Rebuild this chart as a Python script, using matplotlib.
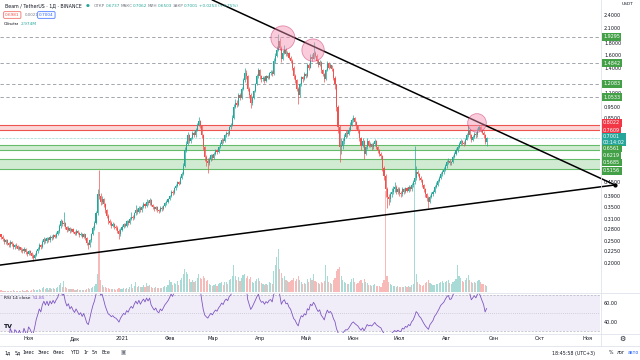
import matplotlib
matplotlib.use("Agg")
import matplotlib.pyplot as plt
import matplotlib.transforms as mtransforms
import numpy as np
import pandas as pd

# ---------------- data (BEAM/USDT, 1D) ----------------
start_date = "2020-10-14"
first_open = 0.268

closes = [
    .262, .255, .248, .252, .245, .240, .247, .243, .236, .240,
    .238, .232, .235, .229, .226, .231, .224, .220, .226, .222,
    .215, .212, .218, .226, .232, .240, .236, .248, .255, .250,
    .258, .252, .262, .258, .266, .262, .270, .276, .290, .305,
    .296, .300, .288, .280, .286, .276, .282, .275, .270, .278,
    .272, .266, .270, .262, .268, .258, .245, .240, .252, .268,
    .285, .300, .330, .400, .395, .372, .380, .362, .340, .322,
    .305, .300, .292, .296, .288, .285, .278, .268, .280, .288,
    .296, .292, .305, .300, .312, .320, .315, .330, .342, .335,
    .350, .340, .352, .362, .355, .372, .365, .378, .360, .352,
    .345, .352, .342, .338, .350, .345, .355, .365, .372, .380,
    .392, .410, .405, .425, .435, .450, .445, .470, .490, .530,
    .620, .660, .720, .680, .700, .740, .720, .760, .800, .830,
    .790, .720, .640, .580, .560, .545, .570, .590, .575, .600,
    .620, .610, .640, .660, .690, .680, .720, .740, .730, .780,
    .800, .860, .960, 1.000, .980, 1.080, 1.050, 1.150, 1.250, 1.350,
    1.300, 1.150, 1.080, 1.000, 1.050, 1.120, 1.200, 1.300, 1.380, 1.300,
    1.260, 1.280, 1.240, 1.300, 1.280, 1.340, 1.360, 1.330, 1.520, 1.600,
    1.700, 1.850, 1.720, 1.550, 1.650, 1.700, 1.620, 1.640, 1.560, 1.520,
    1.420, 1.300, 1.250, 1.150, 1.080, 1.200, 1.290, 1.260, 1.330, 1.300,
    1.450, 1.420, 1.580, 1.550, 1.650, 1.600, 1.520, 1.460, 1.500, 1.380,
    1.330, 1.260, 1.380, 1.480, 1.420, 1.450, 1.400, 1.280, 1.200, .960,
    .780, .640, .650, .680, .710, .740, .730, .760, .800, .840,
    .860, .820, .790, .760, .700, .650, .680, .600, .640, .680,
    .650, .660, .640, .660, .680, .640, .620, .600, .585, .520,
    .480, .420, .390, .380, .400, .410, .420, .430, .410, .420,
    .405, .400, .420, .410, .425, .415, .430, .420, .440, .450,
    .470, .500, .490, .470, .460, .440, .420, .400, .385, .370,
    .390, .400, .410, .430, .440, .455, .470, .490, .500, .510,
    .530, .550, .560, .545, .550, .580, .600, .620, .640, .660,
    .680, .670, .660, .690, .720, .760, .720, .690, .710, .730,
    .720, .760, .780, .760, .740, .720, .674, .700,
]

highs = [
    .270, .266, .258, .256, .255, .248, .252, .250, .246, .244,
    .245, .241, .239, .237, .233, .235, .233, .227, .230, .229,
    .225, .219, .222, .230, .236, .245, .244, .252, .260, .259,
    .262, .262, .266, .266, .270, .270, .275, .281, .296, .312,
    .310, .335, .304, .292, .290, .289, .286, .285, .278, .282,
    .281, .275, .274, .272, .272, .270, .260, .249, .256, .272,
    .290, .306, .338, .420, .510, .405, .392, .386, .366, .346,
    .328, .312, .305, .302, .300, .293, .290, .282, .284, .293,
    .301, .300, .310, .310, .318, .335, .325, .336, .360, .348,
    .356, .354, .358, .370, .366, .380, .378, .385, .382, .364,
    .356, .357, .355, .346, .355, .354, .360, .370, .378, .386,
    .398, .418, .416, .432, .442, .458, .456, .478, .500, .545,
    .640, .680, .745, .730, .712, .752, .750, .775, .815, .870,
    .840, .800, .730, .650, .595, .575, .578, .600, .598, .608,
    .630, .628, .650, .672, .702, .700, .732, .755, .752, .792,
    .818, .880, .990, 1.040, 1.030, 1.100, 1.100, 1.170, 1.280, 1.420,
    1.380, 1.320, 1.170, 1.100, 1.070, 1.140, 1.220, 1.330, 1.420, 1.400,
    1.320, 1.310, 1.300, 1.320, 1.320, 1.360, 1.390, 1.380, 1.560, 1.640,
    1.760, 1.980, 1.900, 1.760, 1.690, 1.780, 1.720, 1.680, 1.660, 1.590,
    1.540, 1.440, 1.330, 1.270, 1.170, 1.220, 1.310, 1.310, 1.360, 1.350,
    1.480, 1.480, 1.620, 1.620, 1.830, 1.680, 1.620, 1.540, 1.530, 1.510,
    1.400, 1.350, 1.400, 1.510, 1.500, 1.480, 1.460, 1.410, 1.300, 1.210,
    .980, .800, .700, .700, .730, .760, .760, .780, .820, .860,
    .880, .870, .830, .800, .770, .710, .700, .690, .650, .700,
    .690, .675, .670, .672, .695, .690, .650, .630, .610, .590,
    .530, .490, .430, .400, .410, .425, .435, .450, .440, .430,
    .428, .412, .428, .425, .432, .430, .438, .435, .448, .462,
    .650, .530, .510, .495, .478, .465, .445, .425, .405, .392,
    .396, .408, .418, .438, .450, .465, .480, .500, .512, .525,
    .542, .562, .575, .568, .560, .590, .612, .632, .652, .672,
    .695, .690, .682, .700, .735, .790, .770, .730, .722, .745,
    .742, .775, .800, .790, .770, .750, .728, .706,
]

lows = [
    .255, .250, .244, .244, .240, .236, .237, .239, .232, .232,
    .233, .228, .228, .225, .222, .223, .220, .216, .217, .218,
    .211, .205, .209, .215, .222, .229, .231, .233, .244, .245,
    .246, .248, .249, .253, .255, .257, .259, .266, .272, .286,
    .290, .290, .282, .275, .276, .272, .273, .271, .265, .267,
    .268, .262, .263, .258, .259, .253, .240, .232, .237, .249,
    .265, .281, .296, .326, .380, .360, .362, .352, .332, .315,
    .298, .294, .286, .287, .283, .279, .272, .255, .264, .276,
    .284, .287, .289, .295, .297, .308, .309, .311, .326, .328,
    .331, .334, .336, .348, .349, .351, .358, .361, .354, .346,
    .338, .340, .336, .330, .334, .339, .341, .351, .360, .367,
    .376, .388, .398, .401, .419, .430, .438, .441, .465, .486,
    .525, .610, .652, .665, .668, .692, .710, .712, .752, .790,
    .775, .705, .625, .560, .530, .495, .535, .560, .566, .570,
    .594, .600, .605, .632, .652, .668, .674, .712, .718, .724,
    .770, .792, .850, .945, .955, .970, 1.030, 1.040, 1.140, 1.230,
    1.260, 1.120, 1.050, .950, .980, 1.040, 1.110, 1.190, 1.280, 1.270,
    1.230, 1.240, 1.220, 1.230, 1.260, 1.270, 1.320, 1.310, 1.320, 1.490,
    1.580, 1.680, 1.690, 1.500, 1.530, 1.630, 1.590, 1.600, 1.540, 1.490,
    1.390, 1.270, 1.220, 1.120, .990, 1.060, 1.180, 1.230, 1.250, 1.280,
    1.290, 1.390, 1.410, 1.520, 1.540, 1.570, 1.490, 1.430, 1.440, 1.350,
    1.300, 1.230, 1.250, 1.370, 1.400, 1.410, 1.370, 1.250, 1.150, .920,
    .740, .550, .600, .630, .660, .700, .710, .720, .750, .790,
    .820, .800, .770, .740, .680, .620, .640, .570, .590, .630,
    .640, .640, .625, .630, .650, .630, .605, .585, .570, .505,
    .460, .390, .350, .360, .370, .390, .400, .410, .400, .400,
    .395, .390, .395, .402, .405, .408, .410, .412, .415, .432,
    .445, .460, .478, .460, .450, .432, .410, .390, .375, .350,
    .365, .384, .395, .405, .425, .435, .450, .465, .482, .492,
    .505, .522, .540, .535, .538, .545, .572, .592, .612, .632,
    .652, .655, .645, .655, .685, .712, .705, .675, .682, .700,
    .705, .712, .750, .745, .728, .705, .662, .650,
]

# volume, millions
volumes = [
    0.8, 0.6, 0.7, 0.5, 0.6, 0.7, 0.5, 0.6, 0.8, 0.5,
    0.6, 0.7, 0.5, 0.6, 0.9, 0.6, 0.7, 0.8, 0.6, 0.7,
    1.0, 1.3, 0.9, 1.1, 1.2, 1.6, 1.0, 2.0, 2.4, 1.5,
    1.8, 1.2, 2.2, 1.4, 1.8, 1.3, 2.0, 2.6, 3.8, 4.5,
    2.8, 5.5, 2.6, 1.8, 1.5, 1.6, 1.3, 1.4, 1.2, 1.1,
    1.3, 1.0, 1.2, 0.9, 1.1, 1.0, 1.6, 2.0, 1.4, 1.8,
    2.4, 3.0, 4.2, 9.0, 31.0, 6.0, 3.5, 2.8, 2.4, 2.0,
    1.8, 1.6, 1.5, 1.3, 1.4, 1.2, 1.5, 2.2, 1.6, 1.4,
    1.8, 1.5, 2.2, 1.7, 2.4, 4.0, 2.2, 3.0, 5.0, 2.6,
    3.2, 2.4, 2.8, 3.5, 2.6, 4.5, 3.0, 3.8, 2.8, 2.2,
    2.0, 2.4, 2.0, 1.8, 2.2, 2.0, 2.6, 3.0, 2.8, 3.5,
    6.0, 5.0, 3.6, 4.4, 4.0, 5.5, 3.8, 6.0, 7.0, 9.0,
    12.0, 10.5, 9.0, 6.5, 5.0, 6.0, 5.0, 5.5, 7.0, 9.5,
    7.0, 6.5, 8.0, 7.0, 5.5, 6.0, 4.0, 3.5, 3.0, 3.6,
    4.0, 3.2, 4.2, 4.5, 5.0, 3.8, 5.2, 5.0, 4.0, 6.0,
    6.5, 8.0, 14.0, 8.0, 6.0, 7.5, 5.5, 7.0, 8.5, 9.5,
    7.0, 8.0, 6.5, 7.5, 5.0, 4.5, 5.5, 6.5, 7.0, 5.5,
    4.5, 4.0, 3.8, 4.2, 3.6, 5.0, 4.5, 4.0, 11.0, 14.0,
    18.0, 22.0, 12.0, 10.0, 7.0, 8.0, 6.0, 5.5, 5.0, 5.5,
    6.0, 7.0, 5.5, 6.5, 8.0, 6.0, 5.0, 4.2, 4.8, 4.0,
    6.5, 5.0, 7.0, 6.0, 9.0, 5.5, 5.0, 4.5, 4.0, 5.0,
    4.5, 5.5, 14.0, 8.0, 5.0, 4.5, 4.2, 6.0, 7.0, 11.0,
    12.0, 13.0, 8.0, 6.0, 5.0, 4.5, 4.0, 4.2, 5.0, 6.5,
    7.0, 5.0, 4.2, 4.8, 5.5, 6.0, 4.5, 6.5, 5.0, 4.5,
    3.8, 3.5, 3.2, 3.6, 4.0, 3.2, 3.0, 3.0, 2.8, 4.5,
    6.0, 52.0, 8.0, 5.0, 4.0, 3.5, 3.2, 3.0, 2.8, 3.0,
    2.6, 2.4, 2.8, 2.5, 3.0, 2.6, 3.2, 2.8, 3.5, 4.0,
    56.0, 9.0, 5.0, 4.0, 3.5, 3.2, 3.8, 4.5, 5.0, 6.0,
    4.5, 4.0, 3.5, 3.8, 4.2, 4.0, 4.5, 5.0, 5.5, 4.8,
    5.0, 5.5, 6.0, 4.5, 4.0, 5.0, 5.5, 6.5, 14.0, 8.0,
    7.0, 5.5, 5.0, 6.0, 7.0, 8.5, 6.0, 5.0, 4.5, 5.0,
    4.5, 5.5, 6.0, 5.0, 4.2, 4.0, 3.5, 2.974,
]

month_labels = ["Ноя", "Дек", "2021", "Фев", "Мар", "Апр", "Май", "Июн",
                "Июл", "Авг", "Сен", "Окт", "Ноя"]
month_dates = ["2020-11-01", "2020-12-01", "2021-01-01", "2021-02-01",
               "2021-03-01", "2021-04-01", "2021-05-01", "2021-06-01",
               "2021-07-01", "2021-08-01", "2021-09-01", "2021-10-01",
               "2021-11-01"]

dashed_levels = [1.9295, 1.4842, 1.2083, 1.0533]
red_zone = (0.7609, 0.8022)
green_zones = [(0.6219, 0.6561), (0.5156, 0.5685)]
last_price = 0.7001

axis_ticks = [2.4, 2.1, 1.8, 1.6, 1.4, 1.1, 0.95, 0.85,
              0.45, 0.39, 0.35, 0.31, 0.28, 0.25, 0.225, 0.2]

# triangle drawn on the chart (bar index, price)
upper_line_x = [138.0, 400.8]
upper_line_y = [2.79, 0.439]
lower_line_x = [-0.65, 400.8]
lower_line_y = [0.197, 0.439]

# pink highlight circles
circle_x = [184.0, 203.7, 310.7]
circle_y = [1.91, 1.69, 0.816]
circle_s = [300, 260, 180]

# ---------------- layout ----------------
W, H = 640, 360
UP, DN = "#26a69a", "#ef5350"
TXT, GRAY, SEP = "#131722", "#787b86", "#e0e3eb"
plt.rcParams["font.family"] = ["DejaVu Sans"]

fig = plt.figure(figsize=(6.4, 3.6), dpi=100)
fig.patch.set_facecolor("white")


def px_axes(x0, y0, x1, y1):
    return fig.add_axes([x0 / W, 1 - y1 / H, (x1 - x0) / W, (y1 - y0) / H])


n = len(closes)
assert len(highs) == n and len(lows) == n and len(volumes) == n
idx = np.arange(n)
opens = np.array([first_open] + closes[:-1])
c = np.array(closes)
up = c >= opens
cols = np.where(up, UP, DN)

XMIN, XMAX = -0.65, 391.0
PTOP, PBOT = 2.79, 0.1505

ax = px_axes(0, 0, 600, 292)
axv = ax.twinx()
axr = px_axes(0, 293, 600, 333)

# volume overlay
axv.bar(idx, volumes, width=0.75, color=cols, alpha=0.4, linewidth=0)
axv.set_ylim(0, 150)
axv.set_axis_off()
ax.set_zorder(axv.get_zorder() + 1)
ax.patch.set_visible(False)

ax.set_yscale("log")
ax.set_xlim(XMIN, XMAX)
ax.set_ylim(PBOT, PTOP)
axv.set_xlim(XMIN, XMAX)

# levels and zones
for lv in dashed_levels:
    ax.axhline(lv, color="#9598a1", lw=0.6, ls=(0, (4, 3)), zorder=1)
ax.axhspan(*red_zone, color="#f7a9a9", alpha=0.45, lw=0, zorder=1)
for lv in red_zone:
    ax.axhline(lv, color="#ef5350", lw=0.8, zorder=1)
for z in green_zones:
    ax.axhspan(*z, color="#a5d6a7", alpha=0.5, lw=0, zorder=1)
    for lv in z:
        ax.axhline(lv, color="#66bb6a", lw=0.8, zorder=1)
ax.axhline(last_price, color=UP, lw=0.4, ls=(0, (1, 1.5)), zorder=1)

# candles
ax.vlines(idx, lows, highs, colors=cols, lw=0.5, zorder=3)
ax.bar(idx, np.abs(c - opens), bottom=np.minimum(c, opens), width=0.7,
       color=cols, linewidth=0, zorder=4)

# triangle lines and circles
ax.plot(upper_line_x, upper_line_y, color="black", lw=1.1, clip_on=False, zorder=5)
ax.plot(lower_line_x, lower_line_y, color="black", lw=1.1, clip_on=False, zorder=5)
ax.plot([upper_line_x[1]], [upper_line_y[1]], "o", ms=2, color="black", clip_on=False, zorder=5)
ax.scatter(circle_x, circle_y, s=circle_s, facecolor="#f48fb1", alpha=0.45,
           edgecolor="#c2185b", linewidth=0.6, zorder=6)

for a in (ax, axr):
    for sp in a.spines.values():
        sp.set_visible(False)
ax.set_xticks([])
ax.set_yticks([])
ax.minorticks_off()
ax.tick_params(which="both", left=False, right=False, labelleft=False)

# right price scale
tr = mtransforms.blended_transform_factory(fig.transFigure, ax.transData)
for v in axis_ticks:
    ax.text(604 / W, v, f"{v:.4f}", transform=tr, fontsize=3.5, color=TXT,
            va="center", ha="left", clip_on=False)
fig.text(628 / W, 1 - 4 / H, "USDT", fontsize=3.2, color=TXT, va="center", ha="center")


def tag(y_px, label, bg):
    fig.text(603 / W, 1 - y_px / H, label, fontsize=3.5, color="white",
             va="center", ha="left", zorder=10, linespacing=1.1,
             bbox=dict(boxstyle="square,pad=0.3", fc=bg, ec="none"))


def ypx(v):
    return 292 * np.log(PTOP / v) / np.log(PTOP / PBOT)


for lv in dashed_levels:
    tag(ypx(lv), f"{lv:.4f}", "#43a047")
tag(123, f"{red_zone[1]:.4f}", "#f23645")
tag(130, f"{red_zone[0]:.4f}", "#f23645")
tag(139.5, f"{last_price:.4f}\n00:14:02", UP)
tag(148.5, f"{green_zones[0][1]:.4f}", "#43a047")
tag(155.5, f"{green_zones[0][0]:.4f}", "#43a047")
tag(162.5, f"{green_zones[1][1]:.4f}", "#43a047")
tag(171, f"{green_zones[1][0]:.4f}", "#43a047")

# RSI 14
s = pd.Series(closes)
d = s.diff().fillna(0)
gain = d.clip(lower=0).ewm(alpha=1 / 14, adjust=False).mean()
loss = (-d.clip(upper=0)).ewm(alpha=1 / 14, adjust=False).mean()
rsi = 100 - 100 / (1 + gain / loss)

axr.axhspan(30, 70, color="#7e57c2", alpha=0.1, lw=0)
for lv, ls in ((70, (0, (3, 2))), (50, (0, (1, 2))), (30, (0, (3, 2)))):
    axr.axhline(lv, color="#b2b5be", lw=0.5, ls=ls)
axr.plot(idx, rsi, color="#7e57c2", lw=0.6)
axr.set_xlim(XMIN, XMAX)
axr.set_ylim(27.8, 72.2)
axr.set_yticks([])
trr = mtransforms.blended_transform_factory(fig.transFigure, axr.transData)
for v in (60, 40):
    axr.text(604 / W, v, f"{v:.2f}", transform=trr, fontsize=3.5, color=TXT,
             va="center", ha="left", clip_on=False)

d0 = pd.Timestamp(start_date)
mpos = [(pd.Timestamp(m) - d0).days for m in month_dates]
axr.set_xticks(mpos)
axr.set_xticklabels(month_labels, fontsize=3.7, color=TXT)
axr.tick_params(axis="x", length=0, pad=2.5)

# separators
for y in (292.5, 333.5, 345.5):
    fig.add_artist(plt.Line2D([0, 1], [1 - y / H] * 2, color=SEP, lw=0.6))
fig.add_artist(plt.Line2D([600.5 / W] * 2, [1 - 345.5 / H, 1], color=SEP, lw=0.6))

renderer = fig.canvas.get_renderer()


def rich(x, y, parts, size=3.4, gap=1.2):
    for txt, col in parts:
        t = fig.text(x / W, 1 - y / H, txt, fontsize=size, color=col,
                     va="center", ha="left")
        x += t.get_window_extent(renderer).width + gap
    return x


# header
end = rich(5, 6, [("Beam / TetherUS · 1Д · BINANCE", TXT)], size=3.4)
fig.text((end + 5) / W, 1 - 6 / H, "●", fontsize=3.2, color=UP, va="center", ha="center")
rich(end + 11, 6, [("ОТКР", GRAY), ("0.6737", UP), ("МАКС", GRAY), ("0.7062", UP),
                   ("МИН", GRAY), ("0.6503", UP), ("ЗАКР", GRAY), ("0.7001", UP),
                   ("+0.0253 (+3.75%)", UP)], size=3.0, gap=0.5)
box = dict(boxstyle="round,pad=0.3,rounding_size=0.2", fc="white", lw=0.5)
fig.text(5 / W, 1 - 15 / H, "0.6981", fontsize=3.1, color=DN, va="center", ha="left",
         bbox=dict(box, ec=DN))
fig.text(25 / W, 1 - 15 / H, "0.0021", fontsize=2.9, color=GRAY, va="center", ha="left")
fig.text(39 / W, 1 - 15 / H, "0.7004", fontsize=3.1, color="#2962ff", va="center", ha="left",
         bbox=dict(box, ec="#2962ff"))
rich(4, 24, [("Объём", TXT), ("2.974M", UP)], size=3.2, gap=2)

# RSI title and logo
rich(4, 298, [("RSI 14 close", TXT), ("51.85", "#7e57c2")], size=3.2, gap=2)
fig.text(8 / W, 1 - 327 / H, "TV", fontsize=4.5, color=TXT, weight="bold",
         va="center", ha="center")

# bottom toolbar
for x, t in ((8, "1д"), (18, "5д"), (29, "1мес"), (44, "3мес"), (59, "6мес"),
             (76, "YTD"), (86, "1г"), (95, "5л"), (106, "Все")):
    fig.text(x / W, 1 - 353 / H, t, fontsize=3.4, color=TXT, va="center", ha="center")
fig.text(123 / W, 1 - 353 / H, "▣", fontsize=4, color=GRAY, va="center", ha="center")
fig.text(574 / W, 1 - 353 / H, "18:45:58 (UTC+3)", fontsize=3.4, color=TXT, va="center", ha="center")
fig.text(611 / W, 1 - 353 / H, "%", fontsize=3.4, color=TXT, va="center", ha="center")
fig.text(621 / W, 1 - 353 / H, "лог", fontsize=3.4, color=TXT, va="center", ha="center")
fig.text(633 / W, 1 - 353 / H, "авто", fontsize=3.4, color="#2962ff", va="center", ha="center")
fig.text(622 / W, 1 - 339 / H, "⚙", fontsize=5, color=TXT, va="center", ha="center")

fig.savefig("out.png", dpi=100, facecolor="white")
